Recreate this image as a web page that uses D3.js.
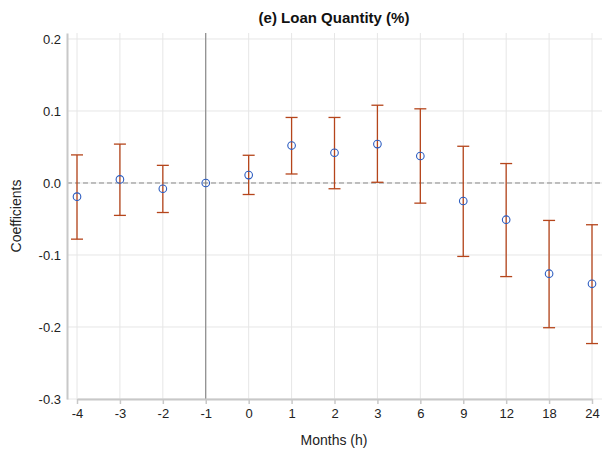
<!DOCTYPE html>
<html>
<head>
<meta charset="utf-8">
<script src="https://cdn.jsdelivr.net/npm/d3@7"></script>
<style>
  body { margin: 0; background: #fff; }
  text { font-family: "Liberation Sans", Arial, sans-serif; }
</style>
</head>
<body>
<div id="chart"></div>
<script>
// Event-time months and estimates
const months = ["-4", "-3", "-2", "-1", "0", "1", "2", "3", "6", "9", "12", "18", "24"];
const coef  = [-0.019, 0.005, -0.008, 0.000, 0.011, 0.052, 0.042, 0.054, 0.0375, -0.025, -0.051, -0.126, -0.140];
const upper = [0.039, 0.054, 0.0245, 0.000, 0.0385, 0.091, 0.091, 0.108, 0.103, 0.051, 0.027, -0.052, -0.058];
const lower = [-0.078, -0.045, -0.041, 0.000, -0.016, 0.0125, -0.008, 0.001, -0.028, -0.102, -0.130, -0.201, -0.223];
const yTicks = [-0.3, -0.2, -0.1, 0.0, 0.1, 0.2];

const W = 602, H = 457;
const margin = { top: 33, right: 0, bottom: 58, left: 67 };
const width = W - margin.left - margin.right,
      height = H - margin.top - margin.bottom;

const svg = d3.select("#chart")
    .append("svg")
        .attr("width", W)
        .attr("height", H);

const g = svg.append("g")
    .attr("transform", `translate(${margin.left},${margin.top})`);

const x = d3.scalePoint()
    .domain(months)
    .range([10, width - 10]);

const y = d3.scaleLinear()
    .domain([-0.3, 0.2083])
    .range([height, 0]);

// Grid
g.append("g")
    .selectAll("line")
    .data(yTicks)
    .join("line")
        .attr("x1", 0)
        .attr("x2", width)
        .attr("y1", d => y(d))
        .attr("y2", d => y(d))
        .attr("stroke", "#e6e6e6")
        .attr("stroke-width", 1);

g.append("g")
    .selectAll("line")
    .data(months)
    .join("line")
        .attr("x1", d => x(d))
        .attr("x2", d => x(d))
        .attr("y1", 0)
        .attr("y2", height)
        .attr("stroke", "#e6e6e6")
        .attr("stroke-width", 1);

// Reference lines
g.append("line")
    .attr("x1", 0)
    .attr("x2", width)
    .attr("y1", y(0))
    .attr("y2", y(0))
    .attr("stroke", "#888")
    .attr("stroke-dasharray", "5,3");

g.append("line")
    .attr("x1", x("-1"))
    .attr("x2", x("-1"))
    .attr("y1", 0)
    .attr("y2", height)
    .attr("stroke", "#777")
    .attr("stroke-width", 1);

// Axes (hyphen minus, as in the original)
const fmt = d => d3.format(".1f")(d).replace("\u2212", "-");
const yAxis = g.append("g")
    .call(d3.axisLeft(y).tickValues(yTicks).tickFormat(fmt).tickSize(0).tickPadding(6));
yAxis.select(".domain").attr("stroke", "#c8c8c8").attr("stroke-width", 2);
yAxis.selectAll("text").attr("font-size", 13).attr("fill", "#222")
    .attr("font-family", "Liberation Sans, Arial, sans-serif");

const xAxis = g.append("g")
    .attr("transform", `translate(0,${height})`)
    .call(d3.axisBottom(x).tickSize(5).tickPadding(5).tickSizeOuter(0));
xAxis.select(".domain").attr("stroke", "#c8c8c8").attr("stroke-width", 2);
xAxis.selectAll(".tick line").attr("stroke", "#c8c8c8").attr("stroke-width", 1.5);
xAxis.selectAll("text").attr("font-size", 13).attr("fill", "#222")
    .attr("font-family", "Liberation Sans, Arial, sans-serif");

// Error bars
const rows = months.map((m, i) => ({ m, c: coef[i], lo: lower[i], hi: upper[i] }))
    .filter(d => d.m !== "-1");
const eb = g.append("g").attr("stroke", "#b5451b").attr("stroke-width", 1.3);
eb.selectAll(".stem").data(rows).join("line")
    .attr("x1", d => x(d.m)).attr("x2", d => x(d.m))
    .attr("y1", d => y(d.hi)).attr("y2", d => y(d.lo));
eb.selectAll(".capHi").data(rows).join("line")
    .attr("class", "capHi")
    .attr("x1", d => x(d.m) - 6).attr("x2", d => x(d.m) + 6)
    .attr("y1", d => y(d.hi)).attr("y2", d => y(d.hi));
eb.selectAll(".capLo").data(rows).join("line")
    .attr("class", "capLo")
    .attr("x1", d => x(d.m) - 6).attr("x2", d => x(d.m) + 6)
    .attr("y1", d => y(d.lo)).attr("y2", d => y(d.lo));

// Points
g.append("g")
    .selectAll("circle")
    .data(months)
    .join("circle")
        .attr("cx", d => x(d))
        .attr("cy", (d, i) => y(coef[i]))
        .attr("r", 3.8)
        .attr("fill", "none")
        .attr("stroke", "#2b5cc0")
        .attr("stroke-width", 1.1);

// Titles
svg.append("text")
    .attr("x", 334)
    .attr("y", 23)
    .attr("text-anchor", "middle")
    .attr("font-size", 15)
    .attr("font-weight", "bold")
    .attr("fill", "#111")
    .text("(e) Loan Quantity (%)");

svg.append("text")
    .attr("x", 334)
    .attr("y", 445)
    .attr("text-anchor", "middle")
    .attr("font-size", 14)
    .attr("fill", "#222")
    .text("Months (h)");

svg.append("text")
    .attr("transform", `translate(21,${margin.top + height / 2}) rotate(-90)`)
    .attr("text-anchor", "middle")
    .attr("font-size", 14)
    .attr("fill", "#222")
    .text("Coefficients");
</script>
</body>
</html>
